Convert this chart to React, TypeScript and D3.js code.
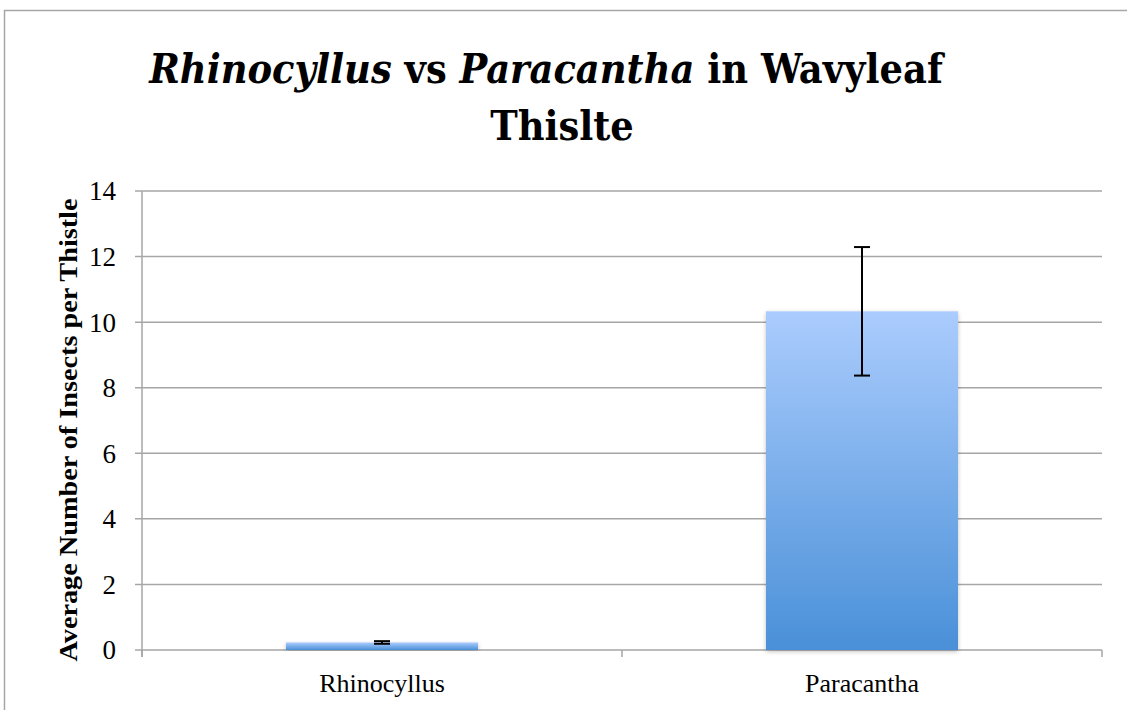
import React from "react";
import * as d3 from "d3";

const categories = ["Rhinocyllus", "Paracantha"];
const means = [0.23, 10.33];
const errors = [0.04, 1.96];
const yTicks = [0, 2, 4, 6, 8, 10, 12, 14];

const W = 1127;
const H = 710;
const margin = { top: 191, right: 25, bottom: 60, left: 142 };
const FONT = "'Liberation Serif', 'Times New Roman', serif";
const TITLE_FONT = "'DejaVu Serif', serif";

const App: React.FC = () => {
  const plotW = W - margin.left - margin.right;
  const plotH = H - margin.top - margin.bottom;

  // Excel style: bar centered in each category cell
  const x = d3
    .scaleBand<string>()
    .domain(categories)
    .range([0, plotW])
    .paddingInner(0.6)
    .paddingOuter(0.3);
  const step = plotW / categories.length;

  const y = d3.scaleLinear().domain([0, 14]).range([plotH, 0]);

  const data = categories.map((c, i) => ({ cat: c, mean: means[i], err: errors[i] }));

  return (
    <svg width={W} height={H} style={{ display: "block", position: "absolute", left: 0, top: 0 }}>
      <defs>
        <linearGradient id="barGrad" x1="0" y1="0" x2="0" y2="1">
          <stop offset="0%" stopColor="#abccfd" />
          <stop offset="100%" stopColor="#4a90d8" />
        </linearGradient>
        <filter id="shadow" x="-10%" y="-10%" width="120%" height="120%">
          <feDropShadow dx="0" dy="1.5" stdDeviation="2" floodColor="#000" floodOpacity="0.25" />
        </filter>
      </defs>
      <rect x={0} y={0} width={W} height={H} fill="#fff" />
      {/* outer chart border */}
      <rect x={4.5} y={10.5} width={W + 10} height={H + 10} fill="none" stroke="#a6a6a6" strokeWidth={1.5} />

      {/* title */}
      <g style={{ fontFamily: TITLE_FONT, fontStretch: "condensed" }} fontWeight="bold" fill="#000" textAnchor="middle">
        <text x={546} y={83} fontSize={41}>
          <tspan fontStyle="italic">Rhinocyllus</tspan> vs <tspan fontStyle="italic">Paracantha</tspan> in Wavyleaf
        </text>
        <text x={562} y={140} fontSize={41}>
          Thislte
        </text>
      </g>

      <g transform={`translate(${margin.left},${margin.top})`} style={{ fontFamily: FONT }}>
        {/* gridlines */}
        {yTicks.map((t) => (
          <line key={"g" + t} x1={-7} x2={plotW} y1={y(t)} y2={y(t)} stroke="#a6a6a6" strokeWidth={1.5} />
        ))}
        {/* y axis line */}
        <line x1={0} x2={0} y1={0} y2={plotH + 7} stroke="#a6a6a6" strokeWidth={1.5} />
        {/* category ticks */}
        {d3.range(categories.length + 1).map((i) => (
          <line key={"c" + i} x1={i * step} x2={i * step} y1={plotH} y2={plotH + 7} stroke="#a6a6a6" strokeWidth={1.5} />
        ))}
        {/* y tick labels */}
        {yTicks.map((t) => (
          <text key={"t" + t} x={-26} y={y(t)} dy="0.35em" textAnchor="end" fontSize={27}>
            {t}
          </text>
        ))}
        {/* bars */}
        {data.map((d) => (
          <rect
            key={d.cat}
            x={x(d.cat)!}
            y={y(d.mean)}
            width={x.bandwidth()}
            height={plotH - y(d.mean)}
            fill="url(#barGrad)"
            filter="url(#shadow)"
          />
        ))}
        {/* error bars */}
        {data.map((d) => {
          const cx = x(d.cat)! + x.bandwidth() / 2;
          return (
            <g key={"e" + d.cat} stroke="#000" strokeWidth={2}>
              <line x1={cx} x2={cx} y1={y(d.mean + d.err)} y2={y(d.mean - d.err)} />
              <line x1={cx - 8} x2={cx + 8} y1={y(d.mean + d.err)} y2={y(d.mean + d.err)} />
              <line x1={cx - 8} x2={cx + 8} y1={y(d.mean - d.err)} y2={y(d.mean - d.err)} />
            </g>
          );
        })}
        {/* category labels */}
        {categories.map((c) => (
          <text key={"l" + c} x={x(c)! + x.bandwidth() / 2} y={plotH + 42} textAnchor="middle" fontSize={26}>
            {c}
          </text>
        ))}
        {/* y axis title */}
        <text
          transform={`translate(${77 - margin.left},${430 - margin.top}) rotate(-90)`}
          textAnchor="middle"
          fontWeight="bold"
          fontSize={26}
          textLength={463}
          lengthAdjust="spacingAndGlyphs"
        >
          Average Number of Insects per Thistle
        </text>
      </g>
    </svg>
  );
};

export default App;
